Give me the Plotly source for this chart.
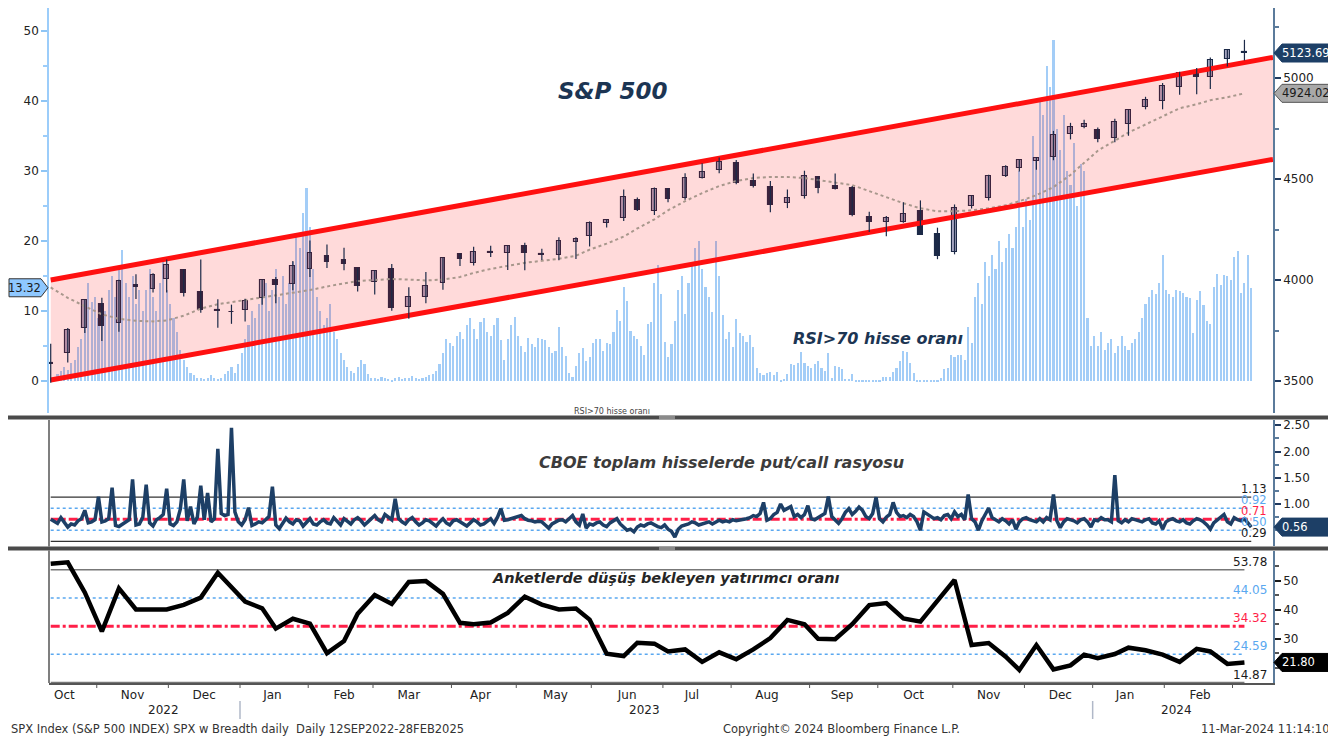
import pandas as pd
import plotly.graph_objects as go

# ---------------- DATA ----------------
holidays = ["2022-11-24", "2022-12-26", "2023-01-02", "2023-01-16", "2023-02-20", "2023-04-07",
            "2023-05-29", "2023-06-19", "2023-07-04", "2023-09-04", "2023-11-23", "2023-12-25",
            "2024-01-01", "2024-01-15", "2024-02-19"]

# % of S&P 500 stocks with RSI>70 (daily)
rsi70_share = [
    0.4, 0.6, 1.0, 1.5, 2.0, 1.6, 2.6, 3.0, 4.9, 6.0,
    9.0, 14.0, 11.3, 12.0, 9.0, 8.3, 10.0, 13.0, 15.0, 12.0,
    16.0, 18.7, 14.0, 12.0, 15.0, 11.0, 13.0, 10.0, 13.0, 16.0,
    12.0, 10.0, 14.0, 17.0, 13.0, 11.0, 9.0, 7.0, 4.5, 3.0,
    2.0, 1.2, 0.8, 0.5, 0.4, 0.3, 0.5, 0.8, 0.4, 0.3,
    0.5, 1.0, 1.5, 2.0, 1.2, 2.5, 4.0, 6.0, 8.0, 10.0,
    9.0, 11.0, 12.0, 14.0, 10.0, 13.0, 16.0, 12.0, 15.0, 11.0,
    14.0, 17.0, 21.0, 19.0, 24.0, 27.6, 22.0, 16.0, 12.0, 10.0,
    8.0, 9.0, 11.0, 7.0, 6.0, 4.0, 3.0, 2.0, 1.5, 1.2,
    2.0, 3.0, 2.5, 1.0, 0.5, 0.4, 0.3, 0.6, 0.4, 0.3,
    0.2, 0.4, 0.6, 0.3, 0.5, 0.4, 0.7, 0.5, 0.3, 0.4,
    0.6, 0.8, 1.0, 1.5, 2.5, 4.0, 6.0, 5.5, 5.0, 6.5,
    7.0, 6.0, 8.0, 9.0, 7.5, 6.0, 8.5, 9.0, 7.0, 6.5,
    8.0, 9.0, 5.9, 3.0, 6.0, 8.0, 9.2, 6.4, 5.0, 4.2,
    6.2, 5.3, 4.8, 6.1, 6.0, 5.9, 4.8, 4.0, 4.3, 7.7,
    4.8, 3.6, 1.2, 0.6, 2.2, 4.0, 4.7, 2.9, 3.4, 5.4,
    6.0, 6.0, 4.3, 5.4, 5.3, 7.0, 10.1, 8.6, 13.5, 11.4,
    7.2, 6.4, 6.0, 5.0, 3.7, 8.1, 8.5, 14.0, 16.6, 12.5,
    5.6, 3.5, 5.3, 8.6, 13.0, 15.0, 9.6, 14.0, 17.0, 19.0,
    20.0, 16.0, 13.5, 12.0, 9.8, 20.0, 15.0, 9.4, 6.0, 7.0,
    4.9, 8.8, 6.8, 6.4, 5.6, 6.6, 4.8, 1.9, 1.2, 0.8,
    1.1, 1.3, 0.9, 1.3, 0.1, 0.3, 1.0, 2.4, 2.3, 2.6,
    4.2, 2.6, 2.2, 1.8, 2.5, 2.8, 1.8, 1.4, 4.0, 0.4,
    2.2, 2.0, 1.7, 0.3, 0.3, 1.0, 0.1, 0.1, 0.2, 0.2,
    0.1, 0.2, 0.1, 0.1, 0.6, 0.6, 0.6, 1.3, 1.8, 2.8,
    4.3, 4.2, 2.6, 1.1, 0.1, 0.1, 0.2, 0.1, 0.2, 0.2,
    0.2, 0.5, 1.7, 1.8, 3.7, 3.5, 3.7, 3.7, 3.0, 7.7,
    5.4, 12.0, 14.0, 11.0, 17.0, 15.0, 18.0, 16.0, 20.0, 17.0,
    19.0, 21.0, 19.0, 22.0, 30.0, 22.0, 26.0, 23.0, 35.0, 32.0,
    40.0, 38.0, 45.0, 42.0, 48.7, 36.0, 33.0, 38.0, 30.0, 28.0,
    34.0, 25.0, 31.0, 30.0, 9.0, 5.0, 6.5, 5.0, 7.0, 4.5,
    5.5, 6.0, 4.0, 5.0, 6.5, 5.0, 4.5, 5.5, 6.0, 7.0,
    9.0, 11.0, 12.0, 13.0, 12.5, 14.0, 18.0, 13.0, 12.5, 12.0,
    13.0, 12.9, 12.6, 12.0, 11.8, 6.8, 11.6, 12.9, 10.9, 8.6,
    8.2, 13.5, 15.3, 13.7, 15.2, 15.0, 14.4, 17.7, 18.6, 12.6,
    14.0, 18.0, 13.32]

# CBOE put/call ratio (daily)
put_call = [
    0.71, 0.66, 0.63, 0.74, 0.66, 0.56, 0.62, 0.60, 0.68, 0.72,
    0.88, 0.64, 0.66, 0.70, 1.14, 0.66, 0.68, 0.72, 1.31, 0.59,
    0.57, 0.62, 0.66, 0.70, 1.47, 0.60, 0.62, 0.75, 1.37, 0.64,
    0.58, 0.70, 0.74, 0.80, 1.29, 0.62, 0.59, 0.66, 0.90, 1.47,
    0.68, 0.95, 0.62, 0.75, 1.35, 0.70, 1.21, 0.66, 0.72, 2.05,
    0.82, 0.78, 0.80, 2.45, 0.85, 0.66, 0.60, 0.70, 0.93, 0.59,
    0.62, 0.66, 0.64, 0.70, 0.76, 1.33, 0.60, 0.53, 0.64, 0.73,
    0.66, 0.62, 0.70, 0.68, 0.58, 0.65, 0.72, 0.62, 0.60, 0.66,
    0.70, 0.64, 0.62, 0.74, 0.68, 0.60, 0.72, 0.66, 0.62, 0.70,
    0.74, 0.68, 0.60, 0.66, 0.72, 0.78, 0.70, 0.66, 0.80, 0.75,
    0.70, 1.10, 0.72, 0.66, 0.62, 0.70, 0.74, 0.66, 0.60, 0.64,
    0.70, 0.68, 0.62, 0.58, 0.66, 0.72, 0.64, 0.60, 0.68, 0.70,
    0.66, 0.62, 0.58, 0.64, 0.70, 0.66, 0.60, 0.62, 0.68, 0.72,
    0.63, 0.75, 0.91, 0.69, 0.70, 0.72, 0.74, 0.76, 0.78, 0.72,
    0.69, 0.68, 0.66, 0.67, 0.66, 0.60, 0.54, 0.62, 0.66, 0.69,
    0.70, 0.66, 0.72, 0.78, 0.66, 0.60, 0.81, 0.54, 0.62, 0.60,
    0.64, 0.66, 0.60, 0.57, 0.64, 0.68, 0.72, 0.62, 0.55, 0.50,
    0.52, 0.47, 0.56, 0.60, 0.58, 0.62, 0.64, 0.60, 0.57, 0.55,
    0.60, 0.52, 0.48, 0.37, 0.52, 0.58, 0.60, 0.62, 0.66, 0.64,
    0.60, 0.62, 0.64, 0.66, 0.62, 0.66, 0.69, 0.66, 0.68, 0.66,
    0.70, 0.68, 0.69, 0.70, 0.72, 0.74, 0.78, 0.76, 0.82, 1.03,
    0.69, 0.72, 0.80, 0.84, 1.00, 0.88, 0.92, 0.95, 0.76, 0.80,
    0.74, 0.80, 0.97, 0.72, 0.70, 0.75, 0.78, 0.82, 1.14, 0.76,
    0.70, 0.63, 0.72, 0.84, 0.91, 0.80, 0.86, 0.94, 0.88, 0.76,
    0.72, 0.82, 1.13, 0.72, 0.66, 0.75, 0.80, 1.03, 0.84, 0.76,
    0.78, 0.74, 0.80, 0.76, 0.66, 0.50, 0.85, 0.80, 0.76, 0.72,
    0.74, 0.70, 0.78, 0.80, 0.72, 0.85, 0.76, 0.80, 0.70, 1.18,
    0.72, 0.66, 0.50, 0.68, 0.80, 0.92, 0.74, 0.70, 0.66, 0.72,
    0.68, 0.62, 0.70, 0.52, 0.66, 0.72, 0.74, 0.70, 0.68, 0.66,
    0.72, 0.66, 0.74, 0.70, 1.18, 0.68, 0.55, 0.66, 0.72, 0.70,
    0.68, 0.64, 0.70, 0.72, 0.66, 0.56, 0.70, 0.68, 0.74, 0.70,
    0.70, 0.66, 1.55, 0.68, 0.64, 0.70, 0.66, 0.72, 0.70, 0.68,
    0.66, 0.70, 0.72, 0.64, 0.62, 0.68, 0.52, 0.66, 0.70, 0.72,
    0.68, 0.66, 0.70, 0.64, 0.62, 0.68, 0.72, 0.70, 0.66, 0.60,
    0.52, 0.64, 0.70, 0.76, 0.80, 0.66, 0.62, 0.74, 0.70, 0.68,
    0.72, 0.64, 0.56]

# Weekly S&P 500 OHLC (week ending Fri 14-Oct-2022 ... Fri 08-Mar-2024)
spx_open = [3590, 3638, 3764, 3881, 3788, 3977, 3956, 4005, 4052, 3939,
            3853, 3843, 3853, 3911, 3999, 3979, 4053, 4120, 4098, 4057,
            3992, 4055, 3864, 3917, 3983, 4131, 4086, 4136, 4134, 4167,
            4126, 4126, 4190, 4220, 4282, 4305, 4396, 4344, 4450, 4404,
            4505, 4543, 4578, 4492, 4458, 4380, 4415, 4510, 4464, 4453,
            4312, 4285, 4289, 4343, 4226, 4139, 4364, 4406, 4514, 4554,
            4587, 4610, 4725, 4758, 4745, 4703, 4772, 4856, 4888, 4957,
            5026, 5003, 5094, 5131]
spx_high = [3685, 3762, 3905, 3912, 4001, 4028, 4034, 4101, 4053, 4101,
            3905, 3878, 3907, 4003, 4015, 4094, 4195, 4176, 4160, 4060,
            4049, 4079, 3964, 4039, 4110, 4133, 4164, 4170, 4171, 4184,
            4155, 4212, 4212, 4290, 4299, 4448, 4409, 4458, 4456, 4528,
            4578, 4607, 4594, 4527, 4490, 4448, 4541, 4514, 4527, 4465,
            4338, 4317, 4385, 4394, 4259, 4374, 4418, 4521, 4568, 4597,
            4609, 4738, 4778, 4793, 4755, 4798, 4842, 4907, 4975, 5031,
            5049, 5101, 5140, 5189]
spx_low = [3491, 3591, 3738, 3698, 3744, 3906, 3938, 3938, 3918, 3838,
           3764, 3783, 3794, 3877, 3885, 3949, 4015, 4060, 4048, 3943,
           3928, 3848, 3808, 3885, 3952, 4069, 4072, 4114, 4049, 4048,
           4099, 4098, 4104, 4166, 4260, 4292, 4341, 4322, 4385, 4397,
           4503, 4528, 4474, 4458, 4335, 4356, 4403, 4430, 4448, 4316,
           4238, 4216, 4283, 4223, 4103, 4127, 4354, 4393, 4510, 4537,
           4546, 4593, 4696, 4751, 4682, 4682, 4714, 4845, 4845, 4917,
           4920, 4946, 5057, 5087]
spx_close = [3583, 3752, 3901, 3771, 3993, 3965, 4026, 4072, 3934, 3852,
             3845, 3840, 3895, 3999, 3973, 4071, 4136, 4090, 4079, 3970,
             4046, 3862, 3917, 3971, 4109, 4105, 4138, 4133, 4169, 4136,
             4124, 4192, 4205, 4282, 4299, 4410, 4348, 4450, 4399, 4505,
             4536, 4582, 4478, 4464, 4370, 4406, 4515, 4457, 4450, 4320,
             4288, 4308, 4327, 4224, 4117, 4358, 4415, 4514, 4559, 4595,
             4604, 4719, 4755, 4770, 4697, 4784, 4840, 4891, 4959, 5027,
             5006, 5089, 5137, 5123.69]

# Moving average (dotted), weekly readings
spx_ma = [3963, 3912, 3870, 3830, 3808, 3798, 3795, 3800, 3823, 3858,
          3880, 3890, 3900, 3915, 3925, 3937, 3950, 3968, 3982, 3995,
          4000, 4005, 4002, 3998, 4002, 4015, 4035, 4055, 4070, 4085,
          4095, 4105, 4120, 4150, 4180, 4215, 4255, 4300, 4345, 4390,
          4430, 4465, 4490, 4505, 4510, 4510, 4505, 4495, 4485, 4470,
          4440, 4410, 4380, 4355, 4340, 4340, 4345, 4355, 4370, 4390,
          4420, 4460, 4520, 4580, 4640, 4690, 4730, 4770, 4810, 4850,
          4870, 4890, 4905, 4924.02]

# AAII bearish share (weekly)
bearish = [55.9, 56.4, 46.0, 32.5, 47.4, 40.1, 40.1, 40.1, 41.7, 44.2,
           52.8, 47.7, 42.8, 40.5, 33.5, 36.9, 35.2, 25.0, 29.2, 38.6,
           45.1, 42.0, 49.6, 49.9, 45.5, 35.5, 35.0, 35.6, 38.9, 44.5,
           41.8, 40.1, 40.4, 36.6, 24.8, 24.0, 28.6, 28.3, 25.6, 26.3,
           22.0, 25.3, 22.9, 26.3, 30.2, 36.5, 35.0, 30.0, 29.8, 35.0,
           41.6, 42.3, 37.0, 35.9, 43.2, 50.3, 27.8, 28.5, 23.8, 19.2,
           27.8, 19.4, 20.8, 24.5, 23.3, 24.7, 26.9, 26.0, 24.5, 22.0,
           26.5, 25.6, 21.3, 21.8]

# trend channel
channel_dates = ["2022-10-12 12:00", "2024-03-18 21:00"]
channel_upper = [4000, 5102]
channel_lower = [3505, 4597]

# reference levels
pc_levels = [1.13, 0.92, 0.71, 0.50, 0.29]
bear_levels = [53.78, 44.05, 34.32, 24.59, 14.87]

month_tick_dates = ["2022-10-18", "2022-11-15", "2022-12-15", "2023-01-17", "2023-02-15",
                    "2023-03-15", "2023-04-14", "2023-05-16", "2023-06-15", "2023-07-14",
                    "2023-08-15", "2023-09-15", "2023-10-16", "2023-11-15", "2023-12-15",
                    "2024-01-16", "2024-02-15"]
month_tick_text = ["Oct", "Nov", "Dec", "Jan", "Feb", "Mar", "Apr", "May", "Jun", "Jul",
                   "Aug", "Sep", "Oct", "Nov", "Dec", "Jan", "Feb"]
year_label_dates = ["2022-11-29", "2023-06-23", "2024-02-06"]
year_labels = ["2022", "2023", "2024"]

# ---------------- DATES ----------------
days = pd.bdate_range("2022-10-12", "2024-03-08")
days = days[~days.isin(pd.to_datetime(holidays))]
days = days[:len(rsi70_share)]
noon = pd.Timedelta(hours=12)
dx = days + noon
weeks = pd.date_range("2022-10-12", "2024-03-06", freq="W-WED") + noon

FONT = "DejaVu Sans"
NAVY = "#1d3f66"
AX = "#5b7b9b"

# page has an 8px body margin: figure drawn at (8, 8)
OFF = 8
W, H = 1336 - OFF, 744 - OFF
L, R, T, B = 49 - OFF, 1336 - 1273, 0, 744 - 683
PW, PH = W - L - R, H - T - B


def px(x):  # page pixel x -> paper
    return (x - 49) / PW


def py(y):  # page pixel y -> paper
    return (683 - y) / PH


fig = go.Figure()

# RSI>70 bars
fig.add_trace(go.Bar(x=dx, y=rsi70_share, yaxis="y", width=0.62 * 86400000,
                     marker=dict(color="#a3cdf7", line=dict(width=0)), showlegend=False))

# channel fill
fig.add_trace(go.Scatter(x=channel_dates, y=channel_lower, yaxis="y2", mode="lines",
                         line=dict(width=0), showlegend=False))
fig.add_trace(go.Scatter(x=channel_dates, y=channel_upper, yaxis="y2", mode="lines",
                         line=dict(width=0), fill="tonexty",
                         fillcolor="rgba(255,0,0,0.145)", showlegend=False))
# MA
fig.add_trace(go.Scatter(x=weeks, y=spx_ma, yaxis="y2", mode="lines",
                         line=dict(color="#a8978c", width=2, dash="dot"), showlegend=False))
# channel lines
for vals in (channel_upper, channel_lower):
    fig.add_trace(go.Scatter(x=channel_dates, y=vals, yaxis="y2", mode="lines",
                             line=dict(color="#ff1010", width=5), showlegend=False))

# candles: wicks
wx, wy = [], []
for d, lo, hi in zip(weeks, spx_low, spx_high):
    wx += [d, d, None]
    wy += [lo, hi, None]
fig.add_trace(go.Scatter(x=wx, y=wy, yaxis="y2", mode="lines",
                         line=dict(color="#1c2a48", width=1.2), showlegend=False))
# candles: bodies
base = [min(o, c) for o, c in zip(spx_open, spx_close)]
hgt = [max(abs(c - o), 4) for o, c in zip(spx_open, spx_close)]
cols = ["#a4a4bf" if c >= o else "#1c2a48" for o, c in zip(spx_open, spx_close)]
fig.add_trace(go.Bar(x=weeks, y=hgt, base=base, yaxis="y2", width=1.4 * 86400000,
                     marker=dict(color=cols, line=dict(color="#1c2a48", width=1.1)),
                     showlegend=False))

# put/call panel
pc_styles = [("#333333", "solid", 1.2), ("#5aa8f0", "dot", 1.5), ("#ff1f48", "dashdot", 3),
             ("#5aa8f0", "dot", 1.5), ("#333333", "solid", 1.2)]
for v, (c, dsh, w) in zip(pc_levels, pc_styles):
    fig.add_trace(go.Scatter(x=[dx[0], dx[-1]], y=[v, v], yaxis="y3", mode="lines",
                             line=dict(color=c, width=w, dash=dsh), showlegend=False))
fig.add_trace(go.Scatter(x=dx, y=put_call, yaxis="y3", mode="lines",
                         line=dict(color=NAVY, width=3.5), showlegend=False))

# survey panel
bear_styles = [("#777777", "solid", 1.5), ("#5aa8f0", "dot", 1.5), ("#ff1f48", "dashdot", 3),
               ("#5aa8f0", "dot", 1.5), ("#777777", "solid", 1.5)]
for v, (c, dsh, w) in zip(bear_levels, bear_styles):
    fig.add_trace(go.Scatter(x=[weeks[0], weeks[-1]], y=[v, v], yaxis="y4", mode="lines",
                             line=dict(color=c, width=w, dash=dsh), showlegend=False))
fig.add_trace(go.Scatter(x=weeks, y=bearish, yaxis="y4", mode="lines",
                         line=dict(color="#000000", width=4.5), showlegend=False))

shapes = []
annotations = []

# month boundary ticks and year separators
first_days = days.to_series().groupby(days.to_period("M")).min()
for d in first_days.iloc[1:]:
    shapes.append(dict(type="line", xref="x", yref="paper", x0=d, x1=d,
                       y0=0, y1=-5 / PH, line=dict(color="#555555", width=1)))
    if d.month == 1:
        shapes.append(dict(type="line", xref="x", yref="paper", x0=d, x1=d,
                           y0=py(701), y1=py(719), line=dict(color="#b0b8c8", width=1.5)))
for d, t in zip(year_label_dates, year_labels):
    annotations.append(dict(x=pd.Timestamp(d) + noon, y=py(710), xref="x", yref="paper", text=t,
                            xanchor="center", yanchor="middle",
                            showarrow=False, font=dict(family=FONT, size=12, color="#222")))

# small series caption partly hidden under the separator (as in the original)
annotations.append(dict(x=px(612), y=py(411), xref="paper", yref="paper", xanchor="center",
                        yanchor="middle", text="RSI>70 hisse oranı", showarrow=False,
                        font=dict(family=FONT, size=8, color="#444")))

# separators between panels
for y0, y1 in ((415.5, 419.5), (546.5, 550.5)):
    shapes.append(dict(type="rect", xref="paper", yref="paper", x0=px(8), x1=px(1336),
                       y0=py(y1), y1=py(y0), fillcolor="#4a4a4a", line=dict(width=0)))
    shapes.append(dict(type="rect", xref="paper", yref="paper", x0=px(659), x1=px(675),
                       y0=py(y1 - 0.5), y1=py(y0 + 0.5), fillcolor="#8a8a8a", line=dict(width=0)))
# left borders of lower panels
for ya, yb in ((420, 546.5), (550.5, 683)):
    shapes.append(dict(type="line", xref="paper", yref="paper", x0=0, x1=0,
                       y0=py(yb), y1=py(ya), line=dict(color="#555555", width=1.5)))


def tag(yref, val, text, fill, tcolor, border, left=False):
    if left:
        path = "M -1,0 L -8,9 L -40,9 L -40,-9 L -8,-9 Z"
        shapes.append(dict(type="path", xref="paper", yref=yref, xsizemode="pixel",
                           ysizemode="pixel", xanchor=0, yanchor=val, path=path,
                           fillcolor=fill, line=dict(color=border, width=1)))
        annotations.append(dict(x=0, y=val, xref="paper", yref=yref, xanchor="right",
                                yanchor="middle", xshift=-6, text=text, showarrow=False,
                                font=dict(family=FONT, size=11.5, color=tcolor)))
    else:
        path = "M 1,0 L 9,9 L 62,9 L 62,-9 L 9,-9 Z"
        shapes.append(dict(type="path", xref="paper", yref=yref, xsizemode="pixel",
                           ysizemode="pixel", xanchor=1, yanchor=val, path=path,
                           fillcolor=fill, line=dict(color=border, width=1)))
        annotations.append(dict(x=1, y=val, xref="paper", yref=yref, xanchor="left",
                                yanchor="middle", xshift=7, text=text, showarrow=False,
                                font=dict(family=FONT, size=11.5, color=tcolor)))


tag("y2", spx_close[-1], f"{spx_close[-1]:.2f}", NAVY, "white", NAVY)
tag("y2", spx_ma[-1], f"{spx_ma[-1]:.2f}", "#a8a8a8", "#1a1a1a", "#555555")
tag("y", rsi70_share[-1], f"{rsi70_share[-1]:.2f}", "#8fc8ff", "#1a1a1a", "#333333", left=True)
tag("y3", put_call[-1], f"{put_call[-1]:.2f}", NAVY, "white", NAVY)
tag("y4", bearish[-1], f"{bearish[-1]:.2f}", "#000000", "white", "#000000")

# level labels
for v, (c, _, _) in zip(pc_levels, pc_styles):
    annotations.append(dict(x=1, y=v, xref="paper", yref="y3", xanchor="right", yanchor="bottom",
                            xshift=-4, yshift=-1, text=f"{v:.2f}", showarrow=False,
                            font=dict(family=FONT, size=11.5, color=c if c != "#333333" else "#1a1a1a")))
for v, (c, _, _) in zip(bear_levels, bear_styles):
    annotations.append(dict(x=1, y=v, xref="paper", yref="y4", xanchor="right", yanchor="bottom",
                            xshift=-4, yshift=-1, text=f"{v:.2f}", showarrow=False,
                            font=dict(family=FONT, size=12, color=c if c != "#777777" else "#1a1a1a")))

# titles
titles = [("S&P 500", 613, 91, 23, "#1c3553"),
          ("RSI>70 hisse oranı", 878, 338, 16, "#1c3553"),
          ("CBOE toplam hisselerde put/call rasyosu", 721, 462, 16, "#3c3c3c"),
          ("Anketlerde düşüş bekleyen yatırımcı oranı", 666, 578, 14.5, "#262626")]
for t, x, y, s, c in titles:
    annotations.append(dict(x=px(x), y=py(y), xref="paper", yref="paper", text=f"<b><i>{t}</i></b>",
                            xanchor="center", yanchor="middle",
                            showarrow=False, font=dict(family=FONT, size=s, color=c)))

# footer
foot_y = py(729)
annotations.append(dict(x=px(9), y=foot_y, xref="paper", yref="paper", xanchor="left",
                        yanchor="middle",
                        text="SPX Index (S&P 500 INDEX) SPX w Breadth daily  Daily 12SEP2022-28FEB2025",
                        showarrow=False, font=dict(family=FONT, size=11.5, color="#333")))
annotations.append(dict(x=px(841), y=foot_y, xref="paper", yref="paper", xanchor="center",
                        yanchor="middle", text="Copyright© 2024 Bloomberg Finance L.P.",
                        showarrow=False, font=dict(family=FONT, size=11.5, color="#333")))
annotations.append(dict(x=px(1331), y=foot_y, xref="paper", yref="paper", xanchor="right",
                        yanchor="middle", text="11-Mar-2024 11:14:10",
                        showarrow=False, font=dict(family=FONT, size=11.5, color="#333")))

tickfont = dict(family=FONT, size=12, color="#222")
fig.update_layout(
    width=W, height=H, margin=dict(l=L, r=R, t=T, b=B, autoexpand=False),
    paper_bgcolor="white", plot_bgcolor="white", barmode="overlay", bargap=0,
    showlegend=False, font=dict(family=FONT),
    xaxis=dict(type="date", anchor="y4", domain=[0, 1], automargin=False,
               range=["2022-10-12 00:00", "2024-03-18 21:00"],
               rangebreaks=[dict(bounds=["sat", "mon"]), dict(values=holidays)],
               tickmode="array",
               tickvals=[pd.Timestamp(d) + noon for d in month_tick_dates],
               ticktext=month_tick_text, ticks="", tickfont=tickfont,
               showline=True, linecolor="#555555", linewidth=1.5,
               showgrid=False, zeroline=False),
    yaxis=dict(domain=[py(413), 1], range=[-4.57, 53.29], side="left", anchor="x",
               automargin=False,
               tickvals=[0, 10, 20, 30, 40, 50], ticks="outside", ticklen=6, tickwidth=2,
               tickcolor="#8ec5f5", showline=True, linecolor="#9ccdfa", linewidth=1.5,
               minor=dict(tickvals=[5, 15, 25, 35, 45], ticks="outside", ticklen=4,
                          tickcolor="#9ccdfa"),
               tickfont=tickfont, showgrid=False, zeroline=False),
    yaxis2=dict(overlaying="y", side="right", anchor="x", range=[3341.6, 5346.5], automargin=False,
                tickvals=[3500, 4000, 4500, 5000], ticks="outside", ticklen=6, tickwidth=2,
                tickcolor="#1f3a5f", showline=True, linecolor=AX, linewidth=1.5,
                minor=dict(tickvals=[3750, 4250, 4750, 5250], ticks="outside", ticklen=4,
                           tickcolor=AX),
                tickfont=tickfont, showgrid=False, zeroline=False),
    yaxis3=dict(domain=[py(546), py(420)], side="right", anchor="x", range=[0.2, 2.6],
                automargin=False,
                tickvals=[1.0, 1.5, 2.0, 2.5], ticktext=["1.00", "1.50", "2.00", "2.50"],
                ticks="outside", ticklen=6, tickwidth=2, tickcolor="#1f3a5f",
                showline=True, linecolor=AX, linewidth=1.5,
                minor=dict(tickvals=[0.5, 0.75, 1.25, 1.75, 2.25], ticks="outside", ticklen=4,
                           tickcolor=AX),
                tickfont=tickfont, showgrid=False, zeroline=False),
    yaxis4=dict(domain=[0, py(551)], side="right", anchor="x", range=[14.7, 60.3],
                automargin=False,
                tickvals=[30, 40, 50], ticks="outside", ticklen=6, tickwidth=2,
                tickcolor="#1a1a1a", showline=True, linecolor=AX, linewidth=1.5,
                minor=dict(tickvals=[20, 25, 35, 45, 55], ticks="outside", ticklen=4,
                           tickcolor="#555"),
                tickfont=tickfont, showgrid=False, zeroline=False),
    shapes=shapes, annotations=annotations,
)

fig.write_html("out.html")
